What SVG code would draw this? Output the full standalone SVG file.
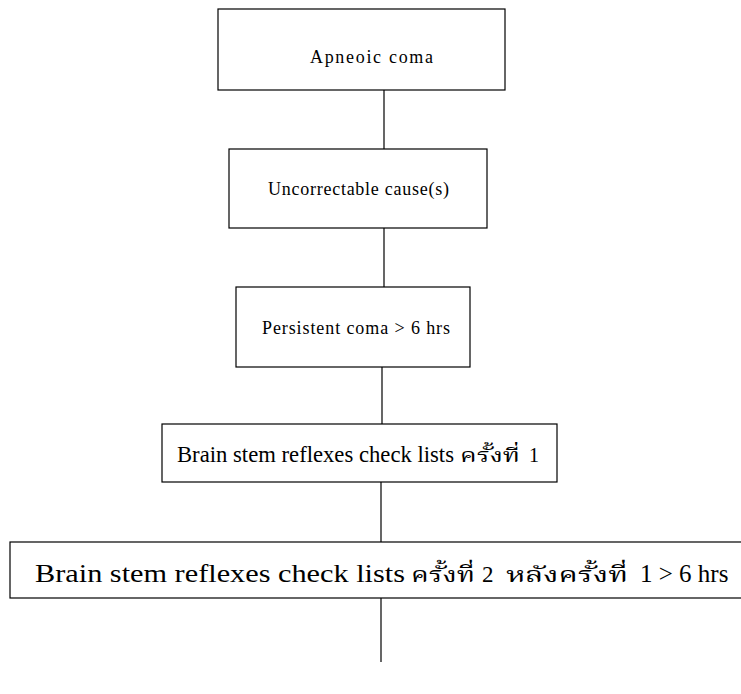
<svg xmlns="http://www.w3.org/2000/svg" width="741" height="694" viewBox="0 0 741 694">
<style>
.box{fill:#fff;stroke:#000;stroke-width:1.2}
.conn{stroke:#000;stroke-width:1.2;fill:none}
text{font-family:"Liberation Serif","Times New Roman","DejaVu Serif",serif;fill:#000}
.th{font-family:"Noto Serif Thai","Noto Sans Thai","Liberation Serif","DejaVu Sans",serif;font-weight:normal}
</style>
<rect width="741" height="694" fill="#fff"/>
<g id="connectors">
<line class="conn" x1="384" y1="90" x2="384" y2="149"/>
<line class="conn" x1="384" y1="228" x2="384" y2="287"/>
<line class="conn" x1="382" y1="367" x2="382" y2="424"/>
<line class="conn" x1="381" y1="482" x2="381" y2="542"/>
<line class="conn" x1="381" y1="598" x2="381" y2="662"/>
</g>
<g id="n1">
<rect class="box" x="218" y="9" width="287" height="81"/>
<text x="310" y="63" font-size="18" textLength="123" lengthAdjust="spacing">Apneoic coma</text>
</g>
<g id="n2">
<rect class="box" x="229" y="149" width="258" height="79"/>
<text x="268" y="195" font-size="18" textLength="181" lengthAdjust="spacing">Uncorrectable cause(s)</text>
</g>
<g id="n3">
<rect class="box" x="236" y="287" width="234" height="80"/>
<text x="262" y="334" font-size="18" textLength="188" lengthAdjust="spacing">Persistent coma &gt; 6 hrs</text>
</g>
<g id="n4">
<rect class="box" x="162" y="424" width="395" height="58"/>
<text y="462" font-size="23"><tspan x="177" textLength="277" lengthAdjust="spacingAndGlyphs">Brain stem reflexes check lists</tspan><tspan class="th" x="460" font-size="19" textLength="60" lengthAdjust="spacingAndGlyphs">ครั้งที่</tspan><tspan x="529" font-size="20">1</tspan></text>
</g>
<g id="n5">
<rect class="box" x="10" y="542" width="740" height="56"/>
<text y="582" font-size="26"><tspan x="35" textLength="370" lengthAdjust="spacingAndGlyphs">Brain stem reflexes check lists</tspan><tspan class="th" x="411" font-size="21" textLength="64" lengthAdjust="spacingAndGlyphs">ครั้งที่</tspan><tspan x="482" font-size="23">2</tspan><tspan class="th" x="506" font-size="21" textLength="122" lengthAdjust="spacingAndGlyphs">หลังครั้งที่</tspan><tspan x="640" font-size="25">1 &gt; 6 hrs</tspan></text>
</g>
</svg>
